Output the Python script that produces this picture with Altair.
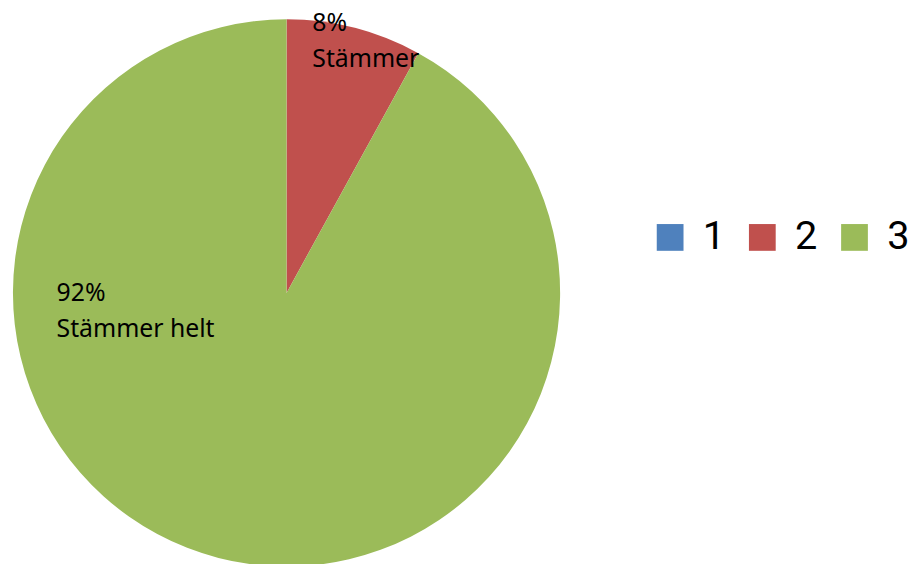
import altair as alt
import pandas as pd

categories = ["1", "2", "3"]
values = [0, 8, 92]
colors = ["#4F81BD", "#C0504D", "#9BBB59"]
label_texts = ["8%\nStämmer", "92%\nStämmer helt"]

df = pd.DataFrame({"cat": categories, "val": values, "ord": [0, 1, 2]})

pie = alt.Chart(df).mark_arc(radius=276, stroke=None).encode(
    theta=alt.Theta("val:Q", stack=True),
    order=alt.Order("ord:Q"),
    color=alt.Color(
        "cat:N",
        scale=alt.Scale(domain=categories, range=colors),
        legend=alt.Legend(
            title=None,
            orient="none",
            legendX=648,
            legendY=209,
            direction="horizontal",
            symbolType="square",
            symbolSize=729,
            symbolStrokeWidth=0,
            labelFontSize=40,
            labelFont="Roboto",
            labelColor="#000000",
            labelOffset=13,
            columnPadding=17,
        ),
    ),
    x=alt.value(281),
    y=alt.value(285),
)

lab1 = alt.Chart(pd.DataFrame({"t": [label_texts[0]]})).mark_text(
    align="left", baseline="top", lineBreak="\n", fontSize=25,
    font="Noto Sans", color="#000000", lineHeight=36
).encode(text="t:N", x=alt.value(307), y=alt.value(1))

lab2 = alt.Chart(pd.DataFrame({"t": [label_texts[1]]})).mark_text(
    align="left", baseline="top", lineBreak="\n", fontSize=25,
    font="Noto Sans", color="#000000", lineHeight=36
).encode(text="t:N", x=alt.value(49), y=alt.value(273))

chart = alt.layer(pie, lab1, lab2).properties(
    width=911, height=556, padding=0, autosize=alt.AutoSizeParams(type="none")
).configure_view(stroke=None)

chart.save("out.html", embed_options={"renderer": "svg", "actions": False})
